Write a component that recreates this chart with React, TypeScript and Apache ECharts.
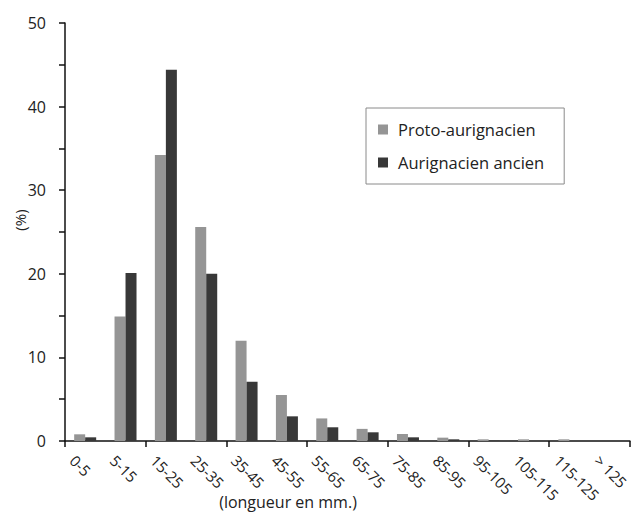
import React, { useEffect, useRef } from "react";
import * as echarts from "echarts";

const categories = ["0-5", "5-15", "15-25", "25-35", "35-45", "45-55", "55-65", "65-75", "75-85", "85-95", "95-105", "105-115", "115-125", "> 125"];
const protoValues = [0.8, 14.9, 34.2, 25.6, 12.0, 5.5, 2.7, 1.45, 0.84, 0.4, 0.2, 0.2, 0.2, 0];
const ancienValues = [0.44, 20.1, 44.4, 20.0, 7.1, 2.95, 1.64, 1.04, 0.44, 0.2, 0.05, 0, 0, 0];
const seriesNames = ["Proto-aurignacien", "Aurignacien ancien"];
const yTicks = [0, 10, 20, 30, 40, 50];

const FONT = "'Open Sans', 'Noto Sans', sans-serif";

export default function App() {
  const ref = useRef<HTMLDivElement>(null);
  useEffect(() => {
    if (!ref.current) return;
    const chart = echarts.init(ref.current, undefined, { renderer: "svg" });
    chart.setOption({
      animation: false,
      backgroundColor: "#fff",
      textStyle: { fontFamily: FONT },
      grid: { left: 65, right: 2, top: 23, bottom: 73 },
      legend: {
        orient: "vertical",
        left: 366,
        top: 108,
        data: seriesNames,
        icon: "rect",
        itemWidth: 10,
        itemHeight: 10,
        itemGap: 16,
        borderColor: "#8a8a8a",
        borderWidth: 1,
        padding: [13, 20, 13, 12],
        textStyle: { fontFamily: FONT, fontSize: 16.5, color: "#222", padding: [0, 0, 0, 5] },
      },
      xAxis: [
        {
          type: "category",
          data: categories,
          position: "bottom",
          boundaryGap: true,
          axisLine: { lineStyle: { color: "#111", width: 1.5 } },
          axisTick: { show: true, length: 6, alignWithLabel: false, lineStyle: { color: "#111", width: 1.5 } },
          axisLabel: { show: false },
          splitLine: { show: false },
        },
        {
          type: "value",
          position: "bottom",
          min: 0,
          max: categories.length,
          interval: 1,
          axisLine: { show: false },
          axisTick: { show: false },
          splitLine: { show: false },
          axisLabel: {
            show: true,
            rotate: -45,
            margin: 9,
            fontFamily: FONT,
            fontSize: 15,
            color: "#222",
            formatter: (v: number) => (categories[v] !== undefined ? "{a|" + categories[v] + "}" : ""),
            rich: { a: { fontFamily: FONT, fontSize: 15, color: "#222", padding: [0, 0, 0, 11] } },
          },
        },
      ],
      yAxis: {
        type: "value",
        min: 0,
        max: 50,
        interval: 5,
        axisLine: { show: true, lineStyle: { color: "#111", width: 1.5 } },
        axisTick: { show: true, length: 6, lineStyle: { color: "#111", width: 1.5 } },
        splitLine: { show: false },
        axisLabel: {
          fontFamily: FONT,
          fontSize: 16,
          color: "#222",
          margin: 19,
          formatter: (v: number) => (yTicks.indexOf(v) >= 0 ? String(v) : ""),
        },
      },
      graphic: [
        {
          type: "text",
          x: 20,
          y: 220,
          rotation: Math.PI / 2,
          style: { text: "(%)", fontFamily: FONT, fontSize: 15, fill: "#222", textAlign: "center", textVerticalAlign: "middle" },
        },
        {
          type: "text",
          x: 288,
          y: 502,
          style: { text: "(longueur en mm.)", fontFamily: FONT, fontSize: 16, fill: "#222", textAlign: "center", textVerticalAlign: "middle" },
        },
      ],
      series: [
        {
          name: seriesNames[0],
          type: "bar",
          xAxisIndex: 0,
          data: protoValues,
          barWidth: 11,
          barGap: "0%",
          itemStyle: { color: "#959595" },
        },
        {
          name: seriesNames[1],
          type: "bar",
          xAxisIndex: 0,
          data: ancienValues,
          barWidth: 11,
          barGap: "0%",
          itemStyle: { color: "#383838" },
        },
      ],
    });
    return () => chart.dispose();
  }, []);
  return <div ref={ref} style={{ position: "absolute", left: 0, top: 0, width: 632, height: 514 }} />;
}
